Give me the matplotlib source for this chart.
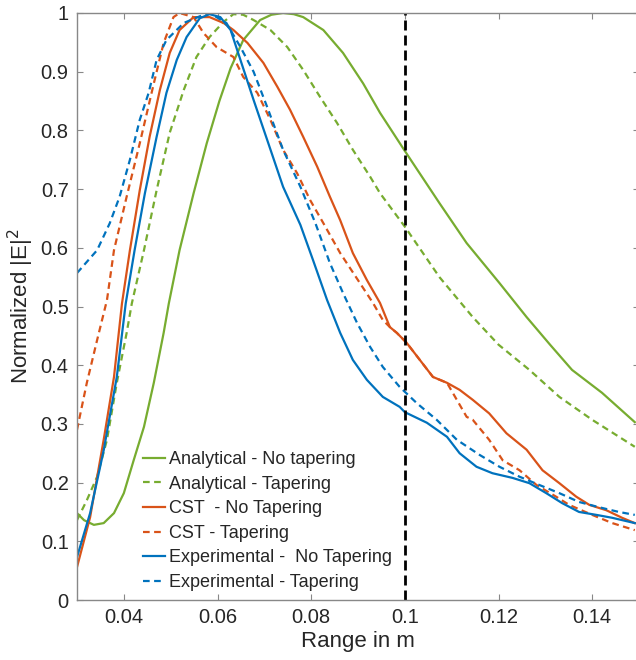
import matplotlib
matplotlib.use("Agg")
import matplotlib.pyplot as plt

# Analytical - No tapering
an_x = [0.0300, 0.0315, 0.0336, 0.0357, 0.0379, 0.0400, 0.0421, 0.0443, 0.0464, 0.0485, 0.0496, 0.0519,
        0.0549, 0.0577, 0.0604, 0.0628, 0.0655, 0.0691, 0.0715, 0.0740, 0.0763, 0.0783, 0.0826, 0.0868,
        0.0911, 0.0947, 0.1000, 0.1074, 0.1132, 0.1202, 0.1260, 0.1310, 0.1357, 0.1421, 0.1491]
an_y = [0.148, 0.136, 0.128, 0.131, 0.148, 0.182, 0.238, 0.295, 0.370, 0.455, 0.505, 0.596,
        0.693, 0.778, 0.850, 0.906, 0.954, 0.988, 0.997, 1.000, 0.998, 0.993, 0.971, 0.932,
        0.880, 0.830, 0.765, 0.676, 0.608, 0.540, 0.482, 0.435, 0.392, 0.353, 0.303]
# Analytical - Tapering
at_x = [0.0300, 0.0321, 0.0343, 0.0364, 0.0385, 0.0406, 0.0417, 0.0443, 0.0470, 0.0498, 0.0528, 0.0555,
        0.0583, 0.0613, 0.0634, 0.0655, 0.0677, 0.0713, 0.0749, 0.0783, 0.0819, 0.0855, 0.0889, 0.0926,
        0.0947, 0.1000, 0.1074, 0.1145, 0.1200, 0.1266, 0.1330, 0.1400, 0.1491]
at_y = [0.136, 0.170, 0.210, 0.273, 0.370, 0.455, 0.505, 0.596, 0.698, 0.796, 0.869, 0.925,
        0.959, 0.985, 0.998, 0.997, 0.988, 0.971, 0.942, 0.903, 0.857, 0.813, 0.767, 0.721,
        0.693, 0.636, 0.550, 0.482, 0.435, 0.392, 0.346, 0.307, 0.261]
# CST - No Tapering
cn_x = [0.0300, 0.0328, 0.0357, 0.0379, 0.0396, 0.0413, 0.0434, 0.0455, 0.0477, 0.0498, 0.0519, 0.0549,
        0.0583, 0.0613, 0.0634, 0.0664, 0.0698, 0.0728, 0.0755, 0.0783, 0.0813, 0.0840, 0.0862, 0.0889,
        0.0919, 0.0947, 0.0968, 0.0983, 0.1004, 0.1032, 0.1060, 0.1090, 0.1117, 0.1145, 0.1180, 0.1217,
        0.1260, 0.1294, 0.1330, 0.1366, 0.1394, 0.1430, 0.1464, 0.1491]
cn_y = [0.056, 0.141, 0.273, 0.380, 0.505, 0.596, 0.698, 0.789, 0.869, 0.932, 0.971, 0.993,
        0.993, 0.983, 0.971, 0.949, 0.915, 0.874, 0.835, 0.789, 0.738, 0.687, 0.647, 0.591,
        0.545, 0.506, 0.465, 0.455, 0.438, 0.409, 0.380, 0.370, 0.358, 0.341, 0.318, 0.284,
        0.256, 0.221, 0.199, 0.176, 0.162, 0.153, 0.140, 0.131]
# CST - Tapering
ct_x = [0.0300, 0.0321, 0.0343, 0.0364, 0.0379, 0.0406, 0.0434, 0.0464, 0.0485, 0.0506, 0.0519, 0.0549,
        0.0570, 0.0598, 0.0634, 0.0655, 0.0685, 0.0713, 0.0740, 0.0770, 0.0798, 0.0826, 0.0862, 0.0904,
        0.0932, 0.0953, 0.0968, 0.0983, 0.1004, 0.1032, 0.1060, 0.1090, 0.1111, 0.1132, 0.1145, 0.1180,
        0.1209, 0.1245, 0.1281, 0.1323, 0.1351, 0.1400, 0.1443, 0.1491]
ct_y = [0.290, 0.370, 0.443, 0.511, 0.596, 0.687, 0.778, 0.880, 0.949, 0.993, 1.000, 0.993,
        0.966, 0.942, 0.925, 0.891, 0.864, 0.818, 0.767, 0.727, 0.681, 0.642, 0.591, 0.540,
        0.506, 0.477, 0.465, 0.455, 0.438, 0.409, 0.380, 0.370, 0.341, 0.312, 0.307, 0.273,
        0.238, 0.221, 0.196, 0.176, 0.162, 0.145, 0.131, 0.119]
# Experimental - No Tapering
en_x = [0.0300, 0.0328, 0.0357, 0.0385, 0.0404, 0.0423, 0.0445, 0.0470, 0.0491, 0.0513, 0.0534, 0.0562,
        0.0583, 0.0606, 0.0628, 0.0649, 0.0677, 0.0706, 0.0740, 0.0777, 0.0804, 0.0834, 0.0862, 0.0889,
        0.0919, 0.0953, 0.0989, 0.1000, 0.1047, 0.1090, 0.1117, 0.1153, 0.1187, 0.1230, 0.1266, 0.1302,
        0.1336, 0.1372, 0.1409, 0.1443, 0.1491]
en_y = [0.073, 0.148, 0.255, 0.380, 0.505, 0.596, 0.693, 0.789, 0.864, 0.920, 0.959, 0.991,
        0.998, 0.993, 0.971, 0.920, 0.852, 0.784, 0.704, 0.639, 0.579, 0.511, 0.455, 0.409,
        0.375, 0.346, 0.329, 0.320, 0.302, 0.278, 0.250, 0.227, 0.216, 0.208, 0.199, 0.182,
        0.165, 0.150, 0.145, 0.140, 0.131]
# Experimental - Tapering
et_x = [0.0300, 0.0343, 0.0370, 0.0391, 0.0413, 0.0434, 0.0453, 0.0470, 0.0491, 0.0528, 0.0570, 0.0583,
        0.0619, 0.0649, 0.0677, 0.0706, 0.0740, 0.0777, 0.0809, 0.0840, 0.0868, 0.0898, 0.0926, 0.0953,
        0.0989, 0.1026, 0.1068, 0.1111, 0.1160, 0.1202, 0.1245, 0.1287, 0.1330, 0.1372, 0.1415, 0.1457,
        0.1491]
et_y = [0.557, 0.596, 0.642, 0.687, 0.750, 0.818, 0.864, 0.920, 0.954, 0.983, 0.997, 1.000,
        0.983, 0.942, 0.900, 0.840, 0.767, 0.704, 0.642, 0.574, 0.523, 0.472, 0.431, 0.397,
        0.363, 0.335, 0.307, 0.273, 0.247, 0.227, 0.210, 0.196, 0.182, 0.167, 0.158, 0.150,
        0.145]

labels = ["Analytical - No tapering", "Analytical - Tapering", "CST  - No Tapering",
          "CST - Tapering", "Experimental -  No Tapering", "Experimental - Tapering"]
xticks = [0.04, 0.06, 0.08, 0.1, 0.12, 0.14]
yticks = [0, 0.1, 0.2, 0.3, 0.4, 0.5, 0.6, 0.7, 0.8, 0.9, 1]
marker_x = 0.1

green = "#77AC30"
orange = "#D95319"
blue = "#0072BD"

plt.rcParams['font.family'] = ['Liberation Sans', 'DejaVu Sans']
fig = plt.figure(figsize=(6.36, 6.6), dpi=100)
ax = fig.add_axes([77/636, 60/660, 562/636, 587/660])

lw = 1.6
dash = (3, 2)
ax.plot(an_x, an_y, color=green, lw=lw, label=labels[0])
ax.plot(at_x, at_y, color=green, lw=lw, ls=(0, dash), label=labels[1])
ax.plot(cn_x, cn_y, color=orange, lw=lw, label=labels[2])
ax.plot(ct_x, ct_y, color=orange, lw=lw, ls=(0, dash), label=labels[3])
ax.plot(en_x, en_y, color=blue, lw=lw, label=labels[4])
ax.plot(et_x, et_y, color=blue, lw=lw, ls=(0, dash), label=labels[5])
ax.plot([marker_x, marker_x], [0, 1], color='black', lw=2, ls=(0, (3.6, 1.8)))

ax.set_xlim(0.03, 0.15)
ax.set_ylim(0, 1)
ax.set_xticks(xticks)
ax.set_xticklabels([f"{t:g}" for t in xticks])
ax.set_yticks(yticks)
ax.set_yticklabels([f"{t:g}" for t in yticks])
ax.tick_params(direction='in', length=4, width=0.8, colors='#262626', labelsize=14.5,
               top=True, right=True, color='#888888', pad=6)
for s in ax.spines.values():
    s.set_color('#888888')
    s.set_linewidth(1.0)

ax.set_xlabel("Range in m", fontsize=16, color='#262626', labelpad=3)
ax.set_ylabel("Normalized |E|$^2$", fontsize=16, color='#262626', labelpad=3)

leg = ax.legend(loc='upper left', bbox_to_anchor=(0.105, 0.266), frameon=False, fontsize=13,
                handlelength=1.2, handletextpad=0.2, labelspacing=0.42, borderaxespad=0)
for t in leg.get_texts():
    t.set_color('#262626')

fig.savefig("out.png", dpi=100)
